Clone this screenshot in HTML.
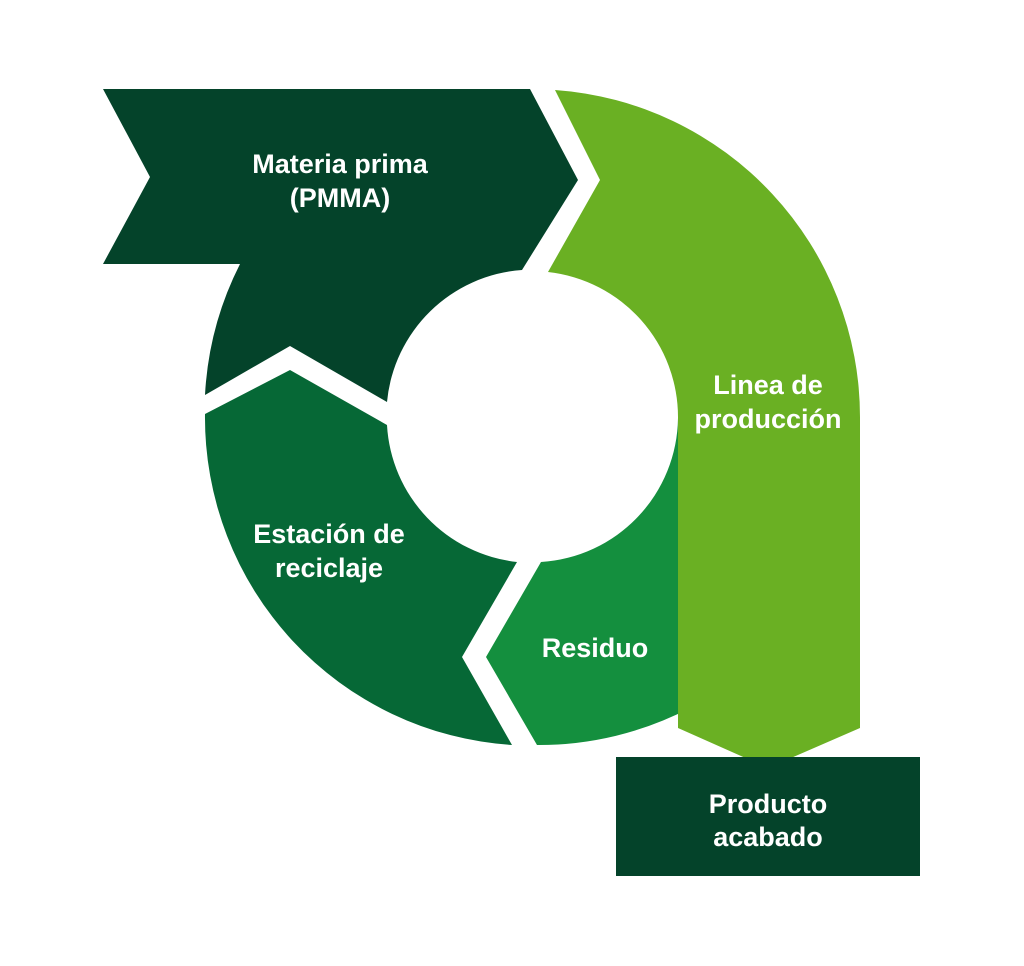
<!DOCTYPE html>
<html><head><meta charset="utf-8"><style>
html,body{margin:0;padding:0;background:#fff;}
svg{display:block;}
text{font-family:"Liberation Sans",Arial,sans-serif;font-weight:bold;font-size:27px;fill:#fff;text-anchor:middle;}
</style></head><body>
<svg width="1024" height="966" viewBox="0 0 1024 966" xmlns="http://www.w3.org/2000/svg">
<rect width="1024" height="966" fill="#fff"/>
<path d="M103,89 L530,89 L578,180 L522,270 A146,146 0 0 0 387,402 L290,346 L205,395 A328,328 0 0 1 240,264 L103,264 L150,177 Z" fill="#04432a"/>
<path d="M205,414 L290,370 L387,425 A146,146 0 0 0 517,562 L462,657 L512,745 A328,328 0 0 1 205,414 Z" fill="#066836"/>
<path d="M541,562 L486,657 L537,745 A328,328 0 0 0 690,708 L690,418 L678,418 A146,146 0 0 1 541,562 Z" fill="#148f3e"/>
<path d="M555,90 A328,328 0 0 1 860,418 L860,728 L768,768 L678,728 L678,418 A146,146 0 0 0 548,272 L600,180 Z" fill="#6ab023"/>
<rect x="616" y="757" width="304" height="119" fill="#04432a"/>
<text x="340" y="173">Materia prima</text>
<text x="340" y="207">(PMMA)</text>
<text x="768" y="394">Linea de</text>
<text x="768" y="428">producción</text>
<text x="329" y="543">Estación de</text>
<text x="329" y="577">reciclaje</text>
<text x="595" y="657">Residuo</text>
<text x="768" y="813">Producto</text>
<text x="768" y="846">acabado</text>
</svg>
</body></html>
